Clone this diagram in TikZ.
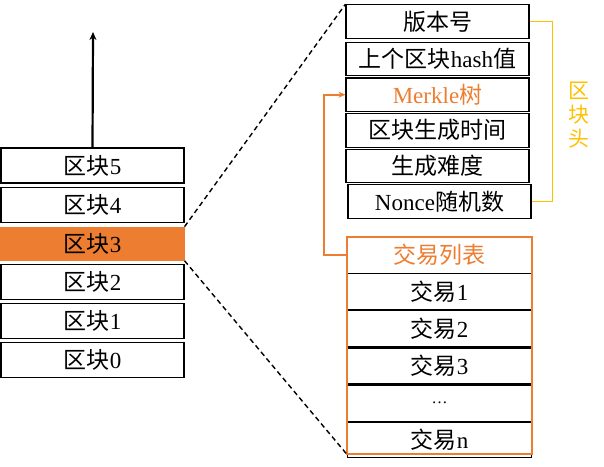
\documentclass[tikz,border=0pt]{standalone}
\usepackage{fontspec}
\setmainfont{Liberation Serif}
\newfontfamily\cjk{Noto Sans CJK SC}
\usepackage{xcolor}
\usepackage{tikz}
\usetikzlibrary{arrows.meta, positioning, calc}
\definecolor{blockorange}{RGB}{237, 125, 49}
\definecolor{headgold}{RGB}{255, 192, 0}

\tikzset{
    chainbox/.style={draw=black, line width=1.1pt, minimum width=183pt, minimum height=35pt, inner sep=0pt, font=\fontsize{23}{27}\selectfont},
    headbox/.style={chainbox, minimum height=33.5pt},
    txrow/.style={chainbox, minimum width=184pt, minimum height=36pt},
    zoomline/.style={line width=1.4pt, dash pattern=on 5pt off 3.5pt},
}

\begin{document}
\begin{tikzpicture}[x=1pt, y=-1pt, node distance=3pt]
    \useasboundingbox (0,0) rectangle (604,466);

    % main chain
    \node[chainbox] (b5) at (92.5,165.5) {{\cjk 区块}5};
    \node[chainbox, below=of b5] (b4) {{\cjk 区块}4};
    \node[chainbox, fill=blockorange, draw=blockorange, minimum height=33pt, below=4pt of b4] (b3) {{\cjk 区块}3};
    \node[chainbox, below=of b3] (b2) {{\cjk 区块}2};
    \node[chainbox, below=of b2] (b1) {{\cjk 区块}1};
    \node[chainbox, below=of b1] (b0) {{\cjk 区块}0};
    \coordinate (tip) at (93,32);
    \draw[line width=2.2pt, -{Stealth[length=8pt, width=7pt]}] (b5.north) -- (tip);

    % block header
    \node[headbox] (h1) at (437.5,21.5) {\cjk 版本号};
    \node[headbox, below=3pt of h1] (h2) {{\cjk 上个区块}hash{\cjk 值}};
    \node[headbox, below=1pt of h2] (mk) {\color{blockorange}Merkle{\cjk 树}};
    \node[headbox, below=1pt of mk] (h4) {\cjk 区块生成时间};
    \node[headbox, below=1pt of h4] (h5) {\cjk 生成难度};
    \node[headbox, below=1pt of h5, xshift=2pt] (h6) {Nonce{\cjk 随机数}};
    \draw[headgold, line width=1.8pt] (h1.east) -- ++(23,0) |- (h6.east);
    \node[headgold, font=\fontsize{21}{24}\selectfont\cjk, align=center] (hlabel) at (579,115) {区\\块\\头};

    % transactions
    \node[minimum width=185pt, minimum height=217pt, inner sep=0pt] (tx) at (439.5,345.5) {};
    \node[minimum width=184pt, minimum height=36pt, inner sep=0pt, font=\fontsize{23}{27}\selectfont\cjk, text=blockorange, below=0pt of tx.north] (th) {交易列表};
    \node[txrow, below=0pt of th] (t1) {{\cjk 交易}1};
    \node[txrow, below=0pt of t1] (t2) {{\cjk 交易}2};
    \node[txrow, below=0pt of t2] (t3) {{\cjk 交易}3};
    \node[txrow, below=0pt of t3] (tdots) {\fontsize{16}{18}\selectfont\ldots};
    \node[txrow, below=0pt of tdots, minimum height=35pt] (tn) {{\cjk 交易}n};
    \draw[blockorange, line width=2.4pt] (tx.south west) rectangle (tx.north east);
    \draw[blockorange, line width=1.8pt, -{Stealth[length=7pt, width=6pt]}] (th.west) -- ++(-23,0) |- (mk.west);

    % zoom lines
    \draw[zoomline] (b3.north east) -- (h1.north west);
    \draw[zoomline] (b3.south east) -- (tx.south west);
\end{tikzpicture}
\end{document}
